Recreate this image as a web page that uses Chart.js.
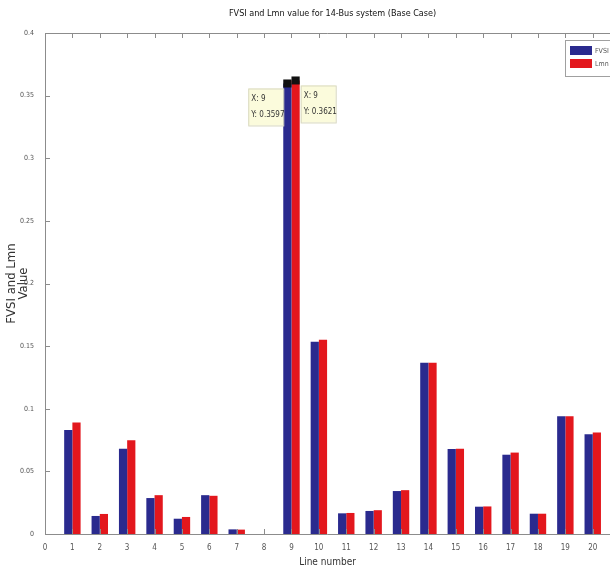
<!DOCTYPE html>
<html>
<head>
<meta charset="utf-8">
<script src="https://cdn.jsdelivr.net/npm/chart.js@4/dist/chart.umd.min.js"></script>
<style>
    html, body { margin: 0; padding: 0; background: #fff; overflow: hidden; }
    #wrap { width: 610px; height: 570px; }
</style>
</head>
<body>
<div id="wrap"><canvas id="fvsiChart" width="610" height="570"></canvas></div>
<script>
// Data
const chartTitle = 'FVSI and Lmn value for 14-Bus system (Base Case)';
const lineNumbers = [1, 2, 3, 4, 5, 6, 7, 8, 9, 10, 11, 12, 13, 14, 15, 16, 17, 18, 19, 20];
const fvsiValues = [0.083, 0.0144, 0.068, 0.0287, 0.0122, 0.031, 0.0037, 0, 0.3597, 0.1535,
                    0.0165, 0.0184, 0.0343, 0.1368, 0.0679, 0.0218, 0.0633, 0.0162, 0.094, 0.0796];
const lmnValues = [0.089, 0.016, 0.0748, 0.031, 0.0136, 0.0305, 0.0035, 0, 0.3621, 0.155,
                   0.0168, 0.019, 0.035, 0.1368, 0.068, 0.022, 0.065, 0.0162, 0.094, 0.081];
const xTicks = [0, 1, 2, 3, 4, 5, 6, 7, 8, 9, 10, 11, 12, 13, 14, 15, 16, 17, 18, 19, 20];
const yTicks = [0, 0.05, 0.1, 0.15, 0.2, 0.25, 0.3, 0.35, 0.4];
const tipLine = 9; // line with data tips

const narrow = "'Liberation Sans Narrow', 'DejaVu Sans Condensed', 'Liberation Sans', sans-serif";
const blue = '#2a2a8e';
const red = '#e3171d';

// title, box, inward ticks, datatips and legend drawn like the matlab figure
const matlabAxes = {
    id: 'matlabAxes',
    afterDraw(chart) {
        const { ctx, chartArea: a, scales: { x, y } } = chart;
        ctx.save();

        // title centred over the full (cropped) axes box
        ctx.fillStyle = '#111';
        ctx.font = '9px ' + narrow;
        ctx.textAlign = 'center';
        ctx.textBaseline = 'middle';
        ctx.fillText(chartTitle, x.getPixelForValue(10.5), 14);

        ctx.strokeStyle = '#8c8c8c';
        ctx.lineWidth = 1;
        ctx.beginPath();
        ctx.moveTo(a.left + 0.5, a.top + 0.5);
        ctx.lineTo(a.right, a.top + 0.5);
        ctx.moveTo(a.left + 0.5, a.top);
        ctx.lineTo(a.left + 0.5, a.bottom + 0.5);
        ctx.lineTo(a.right, a.bottom + 0.5);
        x.ticks.forEach(t => {
            const px = Math.round(x.getPixelForValue(t.value)) + 0.5;
            ctx.moveTo(px, a.bottom);
            ctx.lineTo(px, a.bottom - 5);
            ctx.moveTo(px, a.top);
            ctx.lineTo(px, a.top + 5);
        });
        y.ticks.forEach(t => {
            const py = Math.round(y.getPixelForValue(t.value)) + 0.5;
            ctx.moveTo(a.left, py);
            ctx.lineTo(a.left + 5, py);
        });
        ctx.stroke();

        // data tips on line 9
        const i = lineNumbers.indexOf(tipLine);
        const barW = chart.getDatasetMeta(0).data[i].width;
        const xc = x.getPixelForValue(tipLine);
        const tips = [
            { val: fvsiValues[i], cx: xc - barW / 2, side: -1 },
            { val: lmnValues[i], cx: xc + barW / 2, side: 1 }
        ];
        tips.forEach(tp => {
            const py = y.getPixelForValue(tp.val);
            ctx.fillStyle = '#111';
            ctx.fillRect(tp.cx - barW / 2, py - 4, barW, 8);
            const bw = 35, bh = 37;
            const bx = tp.side < 0 ? tp.cx - barW / 2 - bw : tp.cx + barW / 2 + 1;
            const by = py + 5;
            ctx.fillStyle = '#fbfbdc';
            ctx.fillRect(bx, by, bw, bh);
            ctx.strokeStyle = '#d8d8c0';
            ctx.strokeRect(bx + 0.5, by + 0.5, bw, bh);
            ctx.fillStyle = '#333';
            ctx.font = '8px ' + narrow;
            ctx.textBaseline = 'middle';
            ctx.textAlign = 'left';
            ctx.fillText('X: ' + tipLine, bx + 3, by + 10);
            ctx.fillText('Y: ' + tp.val.toFixed(4), bx + 3, by + 26);
        });

        // legend box in the top right corner
        const lx = 565, ly = 40;
        ctx.fillStyle = '#fff';
        ctx.fillRect(lx, ly, 60, 36);
        ctx.strokeStyle = '#a0a0a0';
        ctx.strokeRect(lx + 0.5, ly + 0.5, 60, 36);
        chart.data.datasets.forEach((ds, k) => {
            const sy = ly + 6 + k * 13;
            ctx.fillStyle = ds.backgroundColor;
            ctx.fillRect(lx + 5, sy, 22, 9);
            ctx.fillStyle = '#555';
            ctx.font = '7px ' + narrow;
            ctx.textAlign = 'left';
            ctx.textBaseline = 'middle';
            ctx.fillText(ds.label, lx + 30, sy + 5);
        });
        ctx.restore();
    }
};

const ctx = document.getElementById('fvsiChart');
const fvsiChart = new Chart(ctx, {
    type: 'bar',
    data: {
        datasets: [
            {
                label: 'FVSI',
                data: lineNumbers.map((n, i) => ({ x: n, y: fvsiValues[i] })),
                backgroundColor: blue,
                borderWidth: 0
            },
            {
                label: 'Lmn',
                data: lineNumbers.map((n, i) => ({ x: n, y: lmnValues[i] })),
                backgroundColor: red,
                borderWidth: 0
            }
        ]
    },
    options: {
        responsive: false,
        animation: false,
        categoryPercentage: 0.6,
        barPercentage: 1,
        layout: { padding: { top: 33, left: 0, right: 0, bottom: 0 } },
        plugins: {
            legend: { display: false },
            tooltip: { enabled: false },
            title: { display: false }
        },
        scales: {
            x: {
                type: 'linear',
                min: 0,
                max: 20.63,
                offset: false,
                grid: { display: false, offset: false },
                border: { display: false },
                afterBuildTicks: scale => {
                    scale.ticks = xTicks.map(v => ({ value: v }));
                },
                afterFit: scale => { scale.height = 36; },
                ticks: {
                    color: '#555',
                    padding: 1,
                    maxRotation: 0,
                    autoSkip: false,
                    font: { size: 8, family: narrow }
                },
                title: {
                    display: true,
                    text: 'Line number',
                    color: '#333',
                    font: { size: 10, family: narrow },
                    padding: { top: 0, bottom: 2 }
                }
            },
            y: {
                min: 0,
                max: 0.4,
                grid: { display: false },
                border: { display: false },
                afterBuildTicks: scale => {
                    scale.ticks = yTicks.map(v => ({ value: v }));
                },
                afterFit: scale => { scale.width = 45; },
                ticks: {
                    color: '#555',
                    padding: 3,
                    font: { size: 7, family: narrow },
                    callback: v => String(+v.toFixed(2))
                },
                title: {
                    display: true,
                    text: ['FVSI and Lmn', 'Value'],
                    color: '#333',
                    font: { size: 13, family: narrow, lineHeight: 0.9 },
                    padding: { top: 6, bottom: 0 }
                }
            }
        }
    },
    plugins: [matlabAxes]
});
</script>
</body>
</html>
